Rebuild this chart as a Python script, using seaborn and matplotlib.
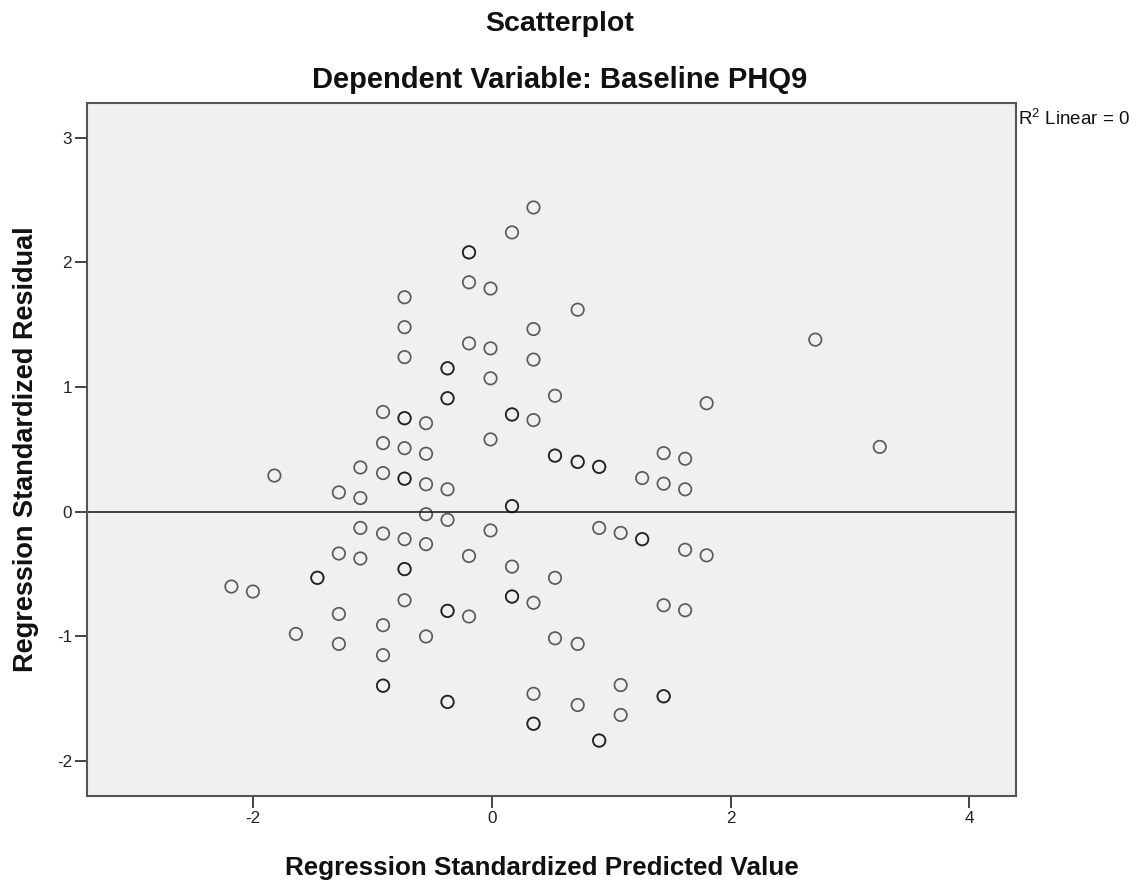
import numpy as np
import pandas as pd
import matplotlib
matplotlib.use("Agg")
import matplotlib.pyplot as plt
import seaborn as sns

# Standardized predicted values (discrete levels) and the residuals observed at each level.
predicted_levels = [-2.18, -2.00, -1.82, -1.64, -1.46, -1.28, -1.10, -0.91, -0.73,
                    -0.55, -0.37, -0.19, -0.01, 0.17, 0.35, 0.53, 0.72, 0.90,
                    1.08, 1.26, 1.44, 1.62, 1.80, 2.71, 3.25]

residuals_by_level = [
    [-0.60],
    [-0.64],
    [0.29],
    [-0.98],
    [-0.53, -0.53],
    [0.155, -0.335, -0.82, -1.06],
    [0.355, 0.11, -0.13, -0.375],
    [0.80, 0.55, 0.31, -0.175, -0.91, -1.15, -1.395, -1.395],
    [1.72, 1.48, 1.24, 0.75, 0.75, 0.51, 0.265, 0.265, -0.22, -0.46, -0.46, -0.71],
    [0.71, 0.465, 0.22, -0.02, -0.26, -1.00],
    [1.15, 1.15, 0.91, 0.91, 0.18, -0.065, -0.795, -0.795, -1.525, -1.525],
    [2.08, 2.08, 1.84, 1.35, -0.355, -0.84],
    [1.79, 1.31, 1.07, 0.58, -0.15],
    [2.24, 0.78, 0.78, 0.045, 0.045, -0.44, -0.68, -0.68],
    [2.44, 1.465, 1.22, 0.735, -0.73, -1.46, -1.70, -1.70],
    [0.93, 0.45, 0.45, -0.53, -1.015],
    [1.62, 0.40, 0.40, -1.06, -1.55],
    [0.36, 0.36, -0.13, -1.835, -1.835],
    [-0.17, -1.39, -1.63],
    [0.27, -0.22, -0.22],
    [0.47, 0.225, -0.75, -1.48, -1.48],
    [0.425, 0.18, -0.305, -0.79],
    [0.87, -0.35],
    [1.38],
    [0.52],
]

x_ticks = [-2, 0, 2, 4]
y_ticks = [-2, -1, 0, 1, 2, 3]

df = pd.DataFrame({
    "predicted": np.repeat(predicted_levels, [len(r) for r in residuals_by_level]),
    "residual": np.concatenate([np.asarray(r, dtype=float) for r in residuals_by_level]),
})

sns.set_theme(style="white")
plt.rcParams["font.family"] = ["Liberation Sans", "DejaVu Sans"]
plt.rcParams["axes.unicode_minus"] = False
plt.rcParams["mathtext.fontset"] = "custom"
plt.rcParams["mathtext.rm"] = "Liberation Sans"
plt.rcParams["mathtext.it"] = "Liberation Sans:italic"
plt.rcParams["mathtext.bf"] = "Liberation Sans:bold"

fig = plt.figure(figsize=(11.47, 8.84), dpi=100)
fig.patch.set_facecolor("white")
ax = fig.add_axes([0.0761, 0.0995, 0.8097, 0.7843])
ax.set_facecolor("#F0F0F0")

# Each case drawn individually so coincident cases read darker.
for i in range(len(df)):
    sns.scatterplot(data=df.iloc[[i]], x="predicted", y="residual", ax=ax,
                    marker="o", s=80, facecolor="none",
                    edgecolor=(0, 0, 0, 0.62), linewidth=1.25, legend=False)

ax.axhline(0, color="#111111", lw=1.1, zorder=1)

ax.set_xlim(-3.387, 4.391)
ax.set_ylim(-2.28, 3.28)
ax.set_xticks(x_ticks)
ax.set_yticks(y_ticks)
ax.tick_params(axis="both", direction="out", length=8.5, width=1.4, color="#444444",
               labelsize=12.3, labelcolor="#222222", pad=2.5,
               bottom=True, left=True, top=False, right=False)

for sp in ax.spines.values():
    sp.set_visible(True)
    sp.set_color("#555555")
    sp.set_linewidth(1.5)

ax.set_xlabel("Regression Standardized Predicted Value", fontsize=18.7,
              fontweight="bold", color="#111111")
ax.xaxis.label.set_va("baseline")
ax.xaxis.set_label_coords(0.49, -0.114)

ax.set_ylabel("Regression Standardized Residual", fontsize=19.5,
              fontweight="bold", color="#111111")
ax.yaxis.label.set_va("center")
ax.yaxis.set_label_coords(-0.066, 0.5)

fig.text(0.488, 0.965, "Scatterplot", ha="center", va="baseline",
         fontsize=20.5, fontweight="bold", color="#111111")
fig.text(0.488, 0.901, "Dependent Variable: Baseline PHQ9", ha="center", va="baseline",
         fontsize=21, fontweight="bold", color="#111111")
fig.text(0.8875, 0.8586, r"R$^{2}$ Linear = 0", ha="left", va="baseline",
         fontsize=13.5, color="#111111")

fig.savefig("out.png", dpi=100, facecolor="white")
